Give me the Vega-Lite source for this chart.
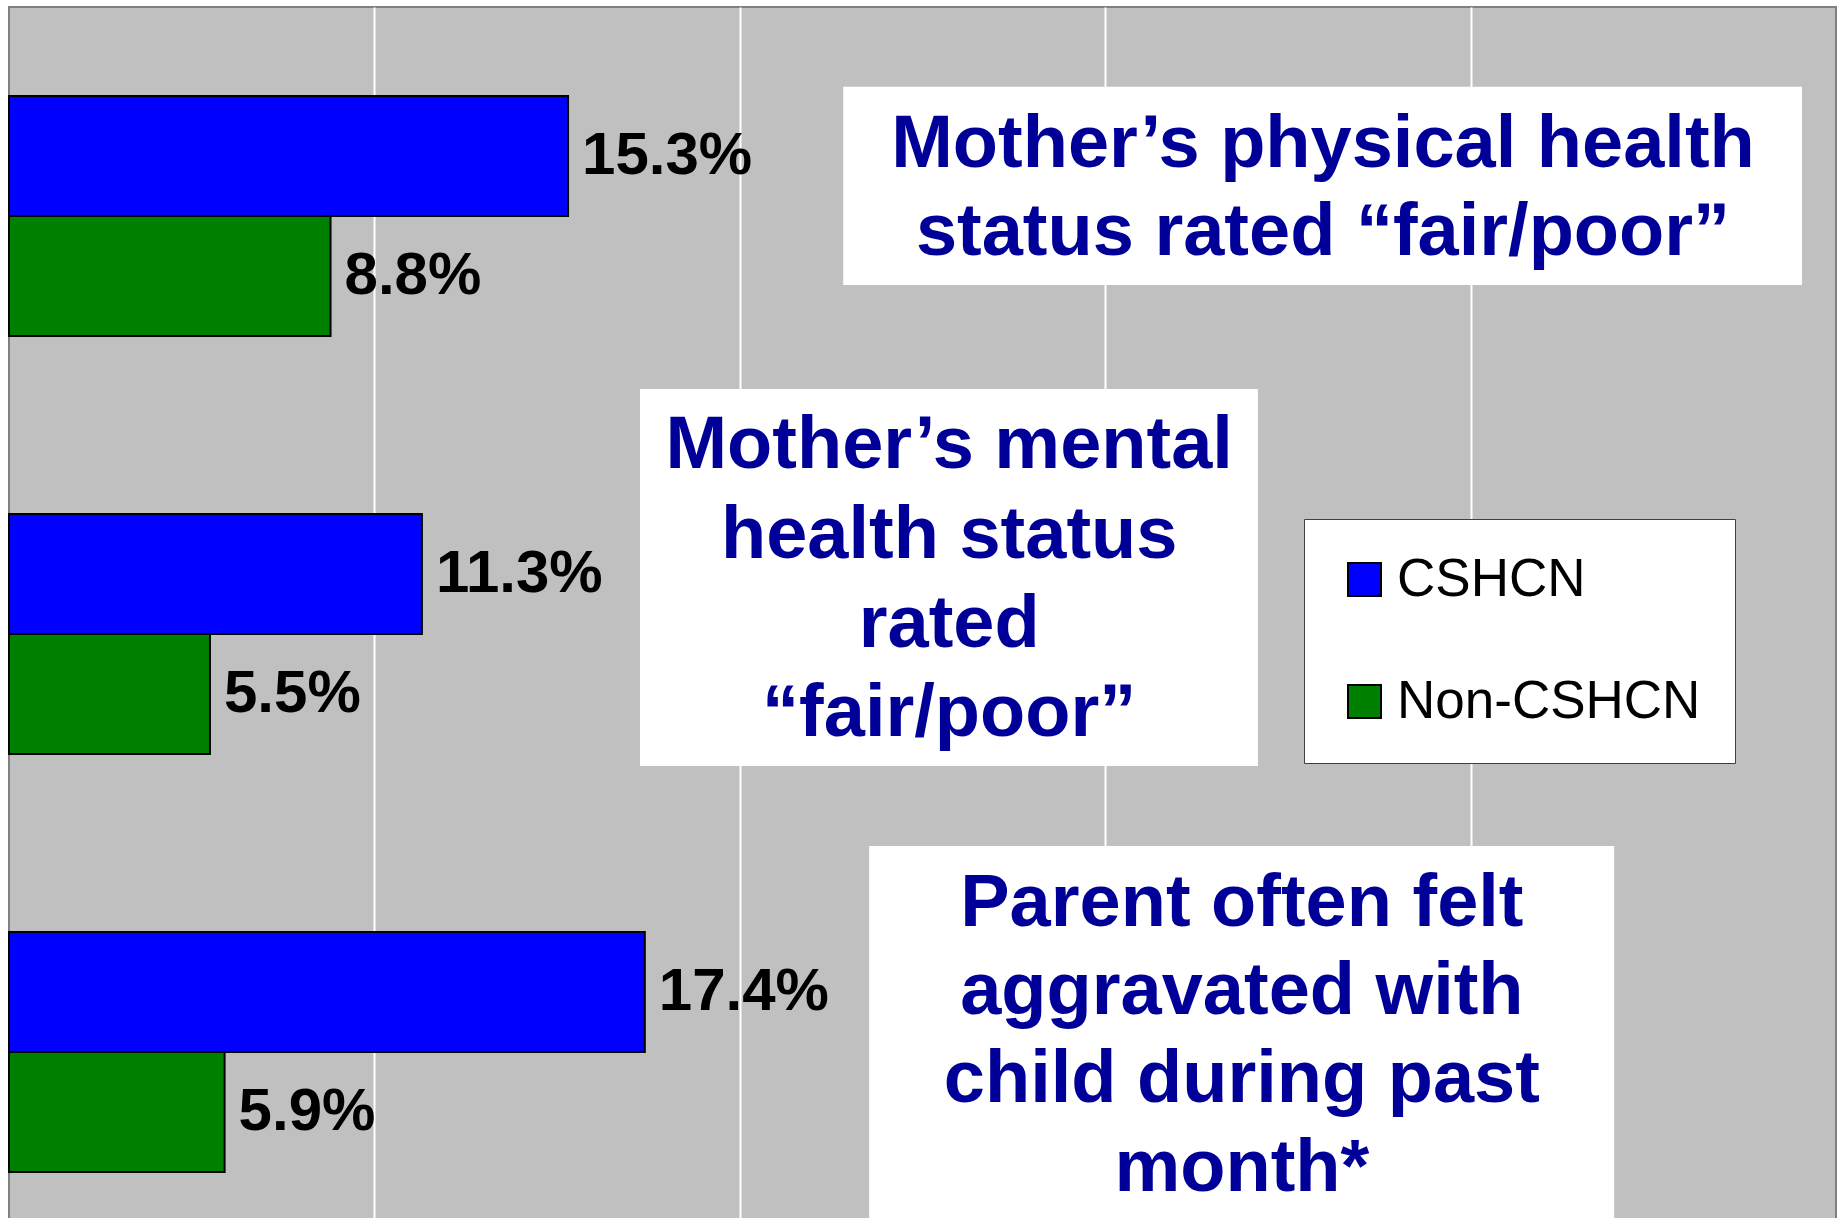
{
  "$schema": "https://vega.github.io/schema/vega-lite/v6.json",
  "width": 1827,
  "height": 1254,
  "padding": {"left": 8, "top": 7, "right": 4, "bottom": 0},
  "background": "white",
  "config": {"view": {"fill": "#C0C0C0", "stroke": "#808080", "strokeWidth": 2}},
  "datasets": {
    "bars": [
      {"measure": "Mother’s physical health status rated “fair/poor”", "group": "CSHCN", "value": 0.153},
      {"measure": "Mother’s physical health status rated “fair/poor”", "group": "Non-CSHCN", "value": 0.088},
      {"measure": "Mother’s mental health status rated “fair/poor”", "group": "CSHCN", "value": 0.113},
      {"measure": "Mother’s mental health status rated “fair/poor”", "group": "Non-CSHCN", "value": 0.055},
      {"measure": "Parent often felt aggravated with child during past month*", "group": "CSHCN", "value": 0.174},
      {"measure": "Parent often felt aggravated with child during past month*", "group": "Non-CSHCN", "value": 0.059}
    ],
    "boxes": [
      {"box": 1, "x": 0.2283, "x2": 0.4907, "y": 0.191, "y2": 0.665},
      {"box": 2, "x": 0.1727, "x2": 0.3418, "y": 0.914, "y2": 1.816},
      {"box": 3, "x": 0.2354, "x2": 0.4393, "y": 2.007, "y2": 3.0}
    ],
    "lines": [
      {"box": 1, "text": "Mother’s physical health", "x": 0.3596, "y": 0.330},
      {"box": 1, "text": "status rated “fair/poor”", "x": 0.3596, "y": 0.541},
      {"box": 2, "text": "Mother’s mental", "x": 0.2573, "y": 1.050},
      {"box": 2, "text": "health status", "x": 0.2573, "y": 1.266},
      {"box": 2, "text": "rated", "x": 0.2573, "y": 1.478},
      {"box": 2, "text": "“fair/poor”", "x": 0.2573, "y": 1.691},
      {"box": 3, "text": "Parent often felt", "x": 0.3374, "y": 2.146},
      {"box": 3, "text": "aggravated with", "x": 0.3374, "y": 2.356},
      {"box": 3, "text": "child during past", "x": 0.3374, "y": 2.567},
      {"box": 3, "text": "month*", "x": 0.3374, "y": 2.780}
    ]
  },
  "layer": [
    {
      "data": {"name": "bars"},
      "encoding": {
        "y": {
          "field": "measure", "type": "nominal", "sort": null, "axis": null,
          "scale": {"paddingInner": 0.4258, "paddingOuter": 0.2129}
        },
        "yOffset": {"field": "group", "type": "nominal", "sort": ["CSHCN", "Non-CSHCN"], "scale": {"paddingInner": 0, "paddingOuter": 0}},
        "x": {
          "field": "value", "type": "quantitative",
          "scale": {"domain": [0, 0.5], "nice": false},
          "axis": {"values": [0.1, 0.2, 0.3, 0.4], "grid": true, "gridColor": "white", "gridWidth": 2, "gridOpacity": 1, "labels": false, "ticks": false, "domain": false, "title": null}
        }
      },
      "layer": [
        {
          "mark": {"type": "bar", "stroke": "black", "strokeWidth": 2},
          "encoding": {
            "color": {
              "field": "group", "type": "nominal",
              "scale": {"domain": ["CSHCN", "Non-CSHCN"], "range": ["#0000FF", "#008000"]},
              "legend": {
                "orient": "none", "legendX": 1295, "legendY": 512, "title": null,
                "fillColor": "white", "strokeColor": "#404040", "padding": 34,
                "symbolType": "square", "symbolSize": 1089, "symbolStrokeColor": "black", "symbolStrokeWidth": 2, "symbolOpacity": 1,
                "labelFont": "Liberation Sans", "labelFontSize": 53, "labelColor": "black", "labelOffset": 6, "labelLimit": 500,
                "rowPadding": 68
              }
            }
          }
        },
        {
          "mark": {"type": "text", "align": "left", "baseline": "middle", "dx": 14, "font": "Liberation Sans", "fontWeight": "bold", "fontSize": 60, "color": "black"},
          "encoding": {"text": {"field": "value", "type": "quantitative", "format": ".1%"}}
        }
      ]
    },
    {
      "encoding": {
        "x": {"field": "x", "type": "quantitative"}
      },
      "layer": [
        {
          "data": {"name": "boxes"},
          "mark": {"type": "rect", "fill": "white"},
          "encoding": {
            "x2": {"field": "x2"},
            "y": {"field": "y", "type": "quantitative", "scale": {"domain": [0, 3], "reverse": true, "nice": false, "zero": false}, "axis": null},
            "y2": {"field": "y2"}
          }
        },
        {
          "data": {"name": "lines"},
          "mark": {"type": "text", "align": "center", "baseline": "middle", "font": "Liberation Sans", "fontWeight": "bold", "fontSize": 74, "color": "#000099"},
          "encoding": {
            "y": {"field": "y", "type": "quantitative", "scale": {"domain": [0, 3], "reverse": true, "nice": false, "zero": false}, "axis": null},
            "text": {"field": "text"}
          }
        }
      ]
    }
  ],
  "resolve": {"scale": {"y": "independent"}}
}
